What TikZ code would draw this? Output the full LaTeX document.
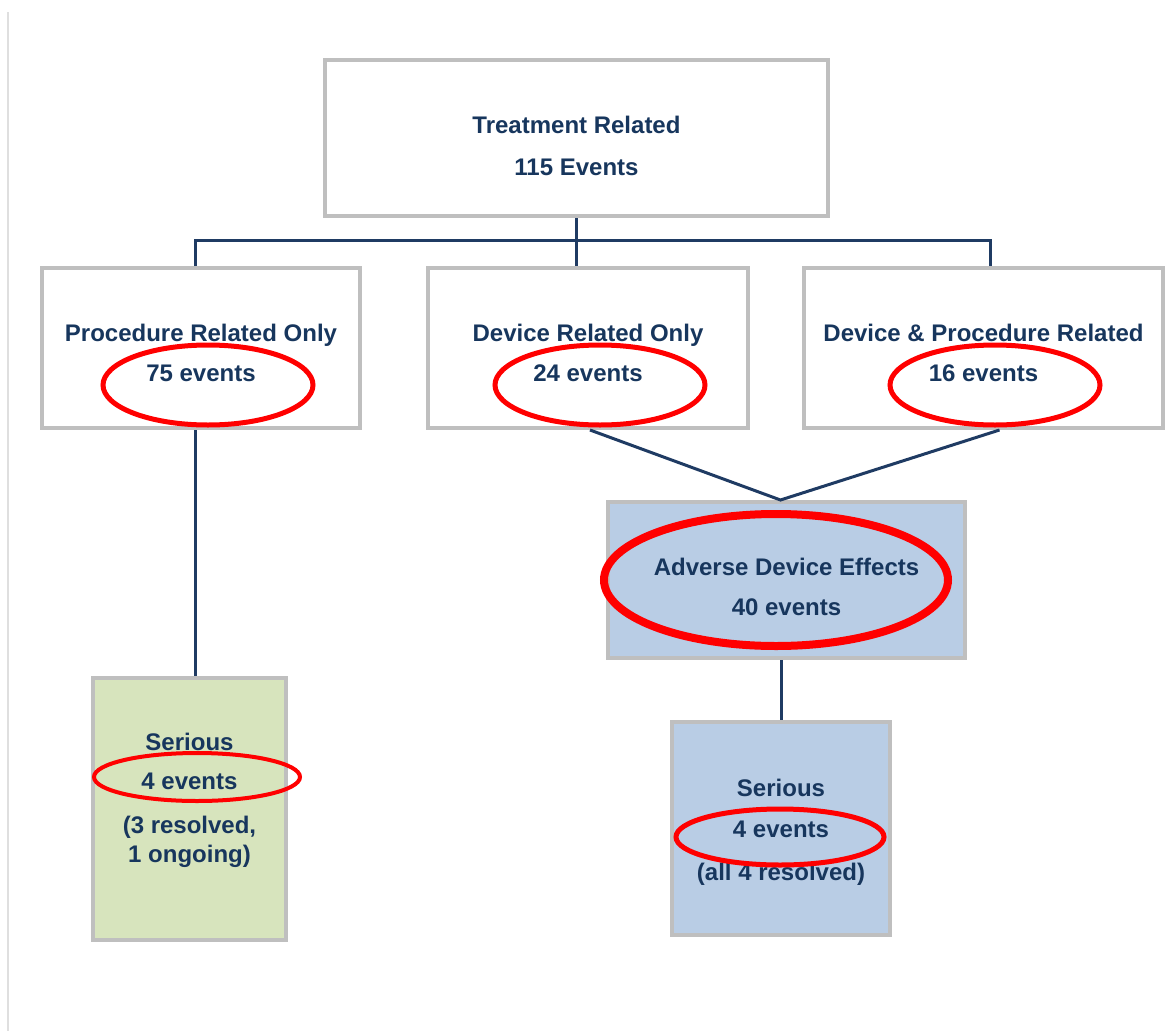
\documentclass[tikz,border=0pt]{standalone}
\usepackage{fontspec}
\setmainfont{Liberation Sans}
\usetikzlibrary{calc}
\definecolor{inknavy}{HTML}{17365D}
\definecolor{linknavy}{HTML}{1F3B63}
\definecolor{boxgray}{HTML}{BFBFBF}
\definecolor{adeblue}{HTML}{B9CDE5}
\definecolor{sergreen}{HTML}{D7E4BD}
% invisible struts to nudge the text block down (top) or up (bottom)
\newcommand\padtop[1]{\rule{0pt}{#1}}
\newcommand\padbot[1]{\rule[-#1]{0pt}{1pt}}
\begin{document}
\begin{tikzpicture}[x=1pt,y=-1pt,
  box/.style={draw=boxgray,line width=4pt,fill=white,align=center,text=inknavy,
    font=\bfseries\fontsize{24}{28.8}\selectfont,inner sep=0pt},
  link/.style={draw=linknavy,line width=3pt},
  ring/.style={draw=red,line width=5pt}]
  \useasboundingbox (0,0) rectangle (1176,1031);
  \draw[gray!25,line width=2pt] (8,12) -- (8,1031);
  % boxes, centres and sizes taken from the layout grid
  \node[box,minimum width=503pt,minimum height=156pt] (top) at (576.5,138) {\padtop{33.5pt}Treatment Related\\[13pt]115 Events};
  \node[box,minimum width=318pt,minimum height=160pt] (proc) at (201,348) {\padtop{27.5pt}Procedure Related Only\\[11pt]75 events};
  \node[box,minimum width=320pt,minimum height=160pt] (dev) at (588,348) {\padtop{27.5pt}Device Related Only\\[11pt]24 events};
  \node[box,minimum width=359pt,minimum height=160pt] (both) at (983.5,348) {\padtop{27.5pt}Device \& Procedure Related\\[11pt]16 events};
  \node[box,fill=adeblue,minimum width=357pt,minimum height=156pt] (ade) at (786.5,580) {\padtop{31.5pt}Adverse Device Effects\\[11pt]40 events};
  \node[box,fill=sergreen,minimum width=193pt,minimum height=262pt] (serL) at (189.5,809) {Serious\\[11pt]4 events\\[15pt](3 resolved,\\1 ongoing)\padbot{23pt}};
  \node[box,fill=adeblue,minimum width=218pt,minimum height=213pt] (serR) at (781,828.5) {\padtop{25.5pt}Serious\\[12pt]4 events\\[14pt](all 4 resolved)};
  % tree connectors
  \coordinate (bar) at (576.5,240);
  \draw[link] (top.south) -- (top.south |- dev.north);
  \draw[link] ([xshift=-6pt]proc.north) |- (bar) -| ([xshift=7pt]both.north);
  \draw[link] ([xshift=2pt]dev.south) -- ($(ade.north)+(-6,0)$) -- ([xshift=16pt]both.south);
  \draw[link] ([xshift=-6pt]proc.south) -- ([xshift=-6pt]proc.south |- serL.north);
  \draw[link] (serR.north |- ade.south) -- (serR.north);
  % red highlight rings
  \draw[ring] (208,385) ellipse (105 and 40);
  \draw[ring] (600,385) ellipse (105 and 40);
  \draw[ring] (995,385) ellipse (105 and 40);
  \draw[ring,line width=8pt] (776,580) ellipse (172 and 66);
  \draw[ring] (780,837) ellipse (104 and 28);
  \draw[ring,line width=4pt] (197,777) ellipse (103 and 24);
\end{tikzpicture}
\end{document}
